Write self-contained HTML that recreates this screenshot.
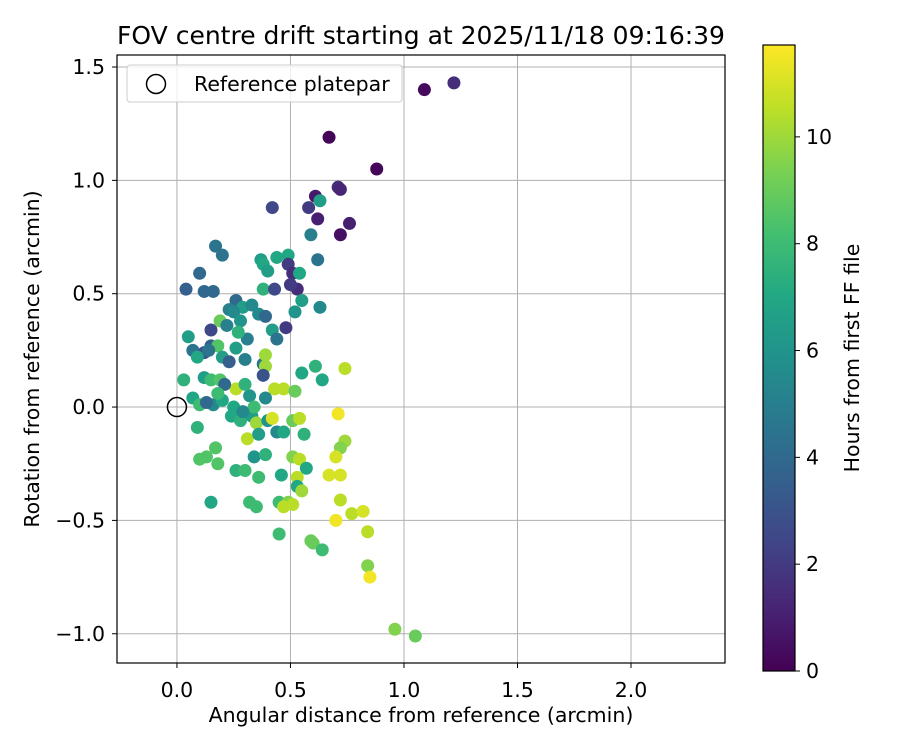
<!DOCTYPE html>
<html><head><meta charset="utf-8"><style>body{margin:0;background:#fff}svg{display:block;font-family:"DejaVu Sans","Liberation Sans",sans-serif}</style></head>
<body>
<svg id="chart" width="900" height="750" xmlns="http://www.w3.org/2000/svg">
<defs><linearGradient id="vir" x1="0" y1="1" x2="0" y2="0"></linearGradient></defs>
<text x="421" y="44" text-anchor="middle" font-size="25">FOV centre drift starting at 2025/11/18 09:16:39</text>
<g id="grid"></g><g id="pts"></g><g id="axes"></g>
</svg>
<script>
const xs=[1.22,1.09,0.67,0.88,0.71,0.72,0.61,0.63,0.42,0.58,0.62,0.76,0.72,0.59,0.17,0.20,0.10,0.37,0.38,0.44,0.49,0.40,0.49,0.51,0.54,0.62,0.04,0.12,0.16,0.38,0.43,0.53,0.55,0.63,0.52,0.26,0.29,0.23,0.15,0.05,0.07,0.12,0.15,0.18,0.19,0.48,0.42,0.36,0.39,0.26,0.30,0.38,0.39,0.39,0.38,0.55,0.61,0.64,0.74,0.03,0.12,0.15,0.19,0.26,0.43,0.47,0.52,0.39,0.07,0.10,0.16,0.20,0.24,0.09,0.28,0.33,0.35,0.40,0.42,0.31,0.36,0.44,0.47,0.51,0.54,0.56,0.71,0.74,0.72,0.70,0.72,0.67,0.51,0.54,0.57,0.53,0.53,0.55,0.26,0.30,0.36,0.34,0.39,0.46,0.10,0.13,0.18,0.17,0.15,0.32,0.35,0.45,0.49,0.47,0.51,0.72,0.77,0.82,0.70,0.84,0.45,0.59,0.60,0.64,0.84,0.85,0.96,1.05,0.22,0.25,0.28,0.31,0.20,0.14,0.23,0.33,0.27,0.21,0.32,0.18,0.25,0.30,0.13,0.09,0.34,0.29,0.44,0.50];
const ys=[1.43,1.40,1.19,1.05,0.97,0.96,0.93,0.91,0.88,0.88,0.83,0.81,0.76,0.76,0.71,0.67,0.59,0.65,0.63,0.66,0.67,0.60,0.63,0.59,0.59,0.65,0.52,0.51,0.51,0.52,0.52,0.52,0.47,0.44,0.42,0.47,0.44,0.43,0.34,0.31,0.25,0.24,0.27,0.27,0.38,0.35,0.34,0.41,0.40,0.26,0.21,0.19,0.23,0.18,0.14,0.15,0.18,0.12,0.17,0.12,0.13,0.12,0.12,0.08,0.08,0.08,0.07,0.04,0.04,0.01,0.01,0.03,-0.04,-0.09,-0.06,-0.04,-0.07,-0.06,-0.05,-0.14,-0.12,-0.11,-0.11,-0.06,-0.05,-0.12,-0.03,-0.15,-0.18,-0.22,-0.30,-0.30,-0.22,-0.23,-0.27,-0.31,-0.35,-0.37,-0.28,-0.28,-0.31,-0.22,-0.21,-0.30,-0.23,-0.22,-0.25,-0.18,-0.42,-0.42,-0.44,-0.42,-0.42,-0.44,-0.43,-0.41,-0.47,-0.46,-0.50,-0.55,-0.56,-0.59,-0.60,-0.63,-0.70,-0.75,-0.98,-1.01,0.36,0.42,0.38,0.30,0.22,0.25,0.20,0.45,0.33,0.10,0.05,0.06,0.00,0.10,0.02,0.22,0.00,-0.02,0.30,0.54];
const hs=[1.5,0.3,0.1,0.2,1.5,1.2,0.8,6.5,2.5,2,1,1,0.5,5,4.5,4.5,4,6.5,7,7,7,6.5,2,1.5,7,4.5,3.5,4,4,7.5,2.5,1.5,6.5,5.5,6,4,6.5,5,2.5,6.5,4.5,3,3.5,8.5,9,2,6.5,5.5,4,6.5,5,4.5,10,10,3,7,7.5,7,10.5,7.5,6.5,8,8.5,10.5,10.5,10.5,9,5.5,7,8,5.5,7,7,7.5,7.5,6.5,10,6,11,10.5,6.5,5.5,7,9,10.5,7.5,11.5,10,9.5,11,11,11,9.5,10.5,7,10.5,7,10,7.5,8,8,6,7.5,7,8.5,8.5,8.5,8.5,7,8,8,8,9.5,10.5,10.5,10.5,10.5,11,11.5,10.5,8,9,9,8,9.5,11.5,9.5,9,5,5.5,6,5,6.5,4.5,3.5,5.5,7.5,4,6,8,7,7.5,4,7,8,5.5,4.5,2];
const xTicks=["0.0","0.5","1.0","1.5","2.0"],xTickVals=[0,0.5,1,1.5,2];
const yTickVals=[-1,-0.5,0,0.5,1,1.5],yTicks=["−1.0","−0.5","0.0","0.5","1.0","1.5"];
const cbTicks=[0,2,4,6,8,10];
const L=117,R=725,T=55,B=663,xmin=-0.264,xmax=2.414,ymin=-1.129,ymax=1.553,HMAX=11.72;
const X=v=>L+(v-xmin)/(xmax-xmin)*(R-L),Y=v=>B-(v-ymin)/(ymax-ymin)*(B-T);
const vs=["#440154","#482475","#414487","#355f8d","#2a788e","#21918c","#22a884","#44bf70","#7ad151","#bddf26","#fde725"];
function hx(c){return [1,3,5].map(i=>parseInt(c.substr(i,2),16));}
function vir(t){t=Math.max(0,Math.min(1,t));const p=t*10,i=Math.min(9,Math.floor(p)),f=p-i;const a=hx(vs[i]),b=hx(vs[i+1]);return "rgb("+a.map((v,k)=>Math.round(v+(b[k]-v)*f)).join(",")+")";}
const NS="http://www.w3.org/2000/svg";
function mk(tag,at,par,txt){const e=document.createElementNS(NS,tag);for(const k in at)e.setAttribute(k,at[k]);if(txt!==undefined)e.textContent=txt;par.appendChild(e);return e;}
const svg=document.getElementById('chart'),grid=document.getElementById('grid'),pts=document.getElementById('pts'),axes=document.getElementById('axes');
const gr=document.getElementById('vir');vs.forEach((c,i)=>mk('stop',{offset:i/10,'stop-color':c},gr));
const FS=20.5;
xTickVals.forEach((v,i)=>{const l=mk('line',{x1:X(v),x2:X(v),y1:T,y2:B,stroke:"#b0b0b0","stroke-width":1},grid);

mk('line',{x1:X(v),x2:X(v),y1:B,y2:B+5,stroke:"#000"},axes);
const t=mk('text',{x:X(v),y:B+34,"text-anchor":"middle","font-size":FS},axes,xTicks[i]);
});
yTickVals.forEach((v,i)=>{const l=mk('line',{x1:L,x2:R,y1:Y(v),y2:Y(v),stroke:"#b0b0b0","stroke-width":1},grid);

mk('line',{x1:L-5,x2:L,y1:Y(v),y2:Y(v),stroke:"#000"},axes);
const t=mk('text',{x:L-12,y:Y(v)+7,"text-anchor":"end","font-size":FS},axes,yTicks[i]);
});
xs.forEach((x,i)=>{const c=mk('circle',{cx:X(x),cy:Y(ys[i]),r:6.5,fill:vir(hs[i]/HMAX)},pts);
});
const ref=mk('circle',{cx:X(0),cy:Y(0),r:9.5,fill:"none",stroke:"#000","stroke-width":1.5},pts);

const fr=mk('rect',{x:L,y:T,width:R-L,height:B-T,fill:"none",stroke:"#000","stroke-width":1.2},axes);

const lg=mk('g',{},axes);
mk('rect',{x:127,y:65,width:275,height:37,rx:3,fill:"rgba(255,255,255,0.8)",stroke:"#ccc"},lg);
mk('circle',{cx:156,cy:84,r:9.5,fill:"none",stroke:"#000","stroke-width":1.5},lg);
mk('text',{x:194,y:91,"font-size":FS},lg,"Reference platepar");
const xl=mk('text',{x:421,y:722,"text-anchor":"middle","font-size":FS},axes,"Angular distance from reference (arcmin)");

const yl=mk('text',{x:39,y:359,"text-anchor":"middle","font-size":FS,transform:"rotate(-90 39 359)"},axes,"Rotation from reference (arcmin)");

const CT=45,CB=671,CL=763,CR=795;
const cb=mk('rect',{x:CL,y:CT,width:CR-CL,height:CB-CT,fill:"url(#vir)",stroke:"#000","stroke-width":1.2},axes);

cbTicks.forEach(v=>{const y=CB-v/HMAX*(CB-CT);mk('line',{x1:CR,x2:CR+5,y1:y,y2:y,stroke:"#000"},axes);
const t=mk('text',{x:CR+11,y:y+7,"font-size":FS},axes,String(v));
});
const cl=mk('text',{x:859,y:358,"text-anchor":"middle","font-size":FS,transform:"rotate(-90 859 358)"},axes,"Hours from first FF file");

</script>
</body></html>
